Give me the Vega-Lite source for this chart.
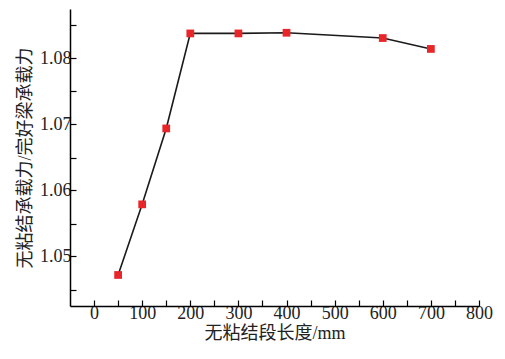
{
  "$schema": "https://vega.github.io/schema/vega-lite/v6.json",
  "autosize": {"type": "none"},
  "width": 409,
  "height": 297,
  "padding": {"left": 70, "top": 9, "right": 26, "bottom": 53},
  "background": "white",
  "config": {
    "view": {"stroke": null},
    "font": "Liberation Serif, Noto Sans CJK SC",
    "axis": {
      "domainColor": "#000",
      "tickColor": "#000",
      "labelColor": "#222",
      "titleColor": "#222",
      "labelFont": "Liberation Serif",
      "labelFontSize": 18,
      "titleFont": "Liberation Serif, Noto Sans CJK SC",
      "titleFontSize": 18,
      "titleFontWeight": "normal",
      "grid": false,
      "domainWidth": 1.5,
      "tickWidth": 1.2,
      "labelOverlap": false,
      "labelFlush": false
    }
  },
  "data": {
    "values": [
      {"len": 50, "ratio": 1.0472},
      {"len": 100, "ratio": 1.0579},
      {"len": 150, "ratio": 1.0694},
      {"len": 200, "ratio": 1.0838},
      {"len": 300, "ratio": 1.0838},
      {"len": 400, "ratio": 1.0839},
      {"len": 600, "ratio": 1.0831},
      {"len": 700, "ratio": 1.08145}
    ]
  },
  "layer": [
    {
      "mark": {"type": "line", "color": "#1a1a1a", "strokeWidth": 1.6},
      "encoding": {
        "x": {
          "field": "len", "type": "quantitative",
          "scale": {"domain": [-50, 800], "nice": false, "zero": false},
          "axis": {
            "title": "无粘结段长度/mm",
            "values": [0, 50, 100, 150, 200, 250, 300, 350, 400, 450, 500, 550, 600, 650, 700, 750, 800],
            "tickCount": 100,
            "labelExpr": "datum.value % 100 === 0 ? datum.label : ''",
            "labelOverlap": false,
            "tickSize": -6,
            "labelPadding": 4,
            "titlePadding": 2
          }
        },
        "y": {
          "field": "ratio", "type": "quantitative",
          "scale": {"domain": [1.0425, 1.0875], "nice": false, "zero": false},
          "axis": {
            "title": "无粘结承载力/完好梁承载力",
            "values": [1.045, 1.05, 1.055, 1.06, 1.065, 1.07, 1.075, 1.08, 1.085],
            "tickCount": 100,
            "format": ".3f",
            "labelExpr": "substring(datum.label, 4, 5) === '0' ? substring(datum.label, 0, 4) : ''",
            "labelOverlap": false,
            "tickSize": -6,
            "labelPadding": 5,
            "titlePadding": 5
          }
        }
      }
    },
    {
      "mark": {"type": "square", "color": "#e8262a", "opacity": 1, "size": 60},
      "encoding": {
        "x": {"field": "len", "type": "quantitative"},
        "y": {"field": "ratio", "type": "quantitative"}
      }
    }
  ]
}
